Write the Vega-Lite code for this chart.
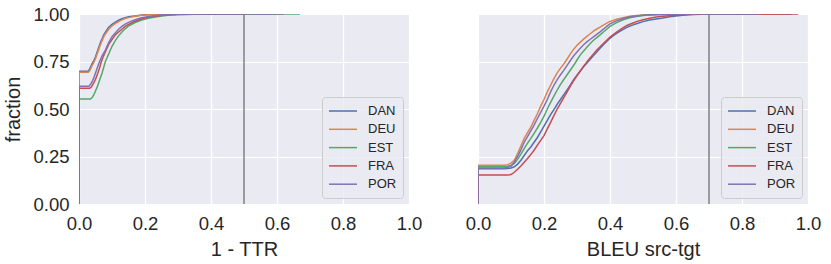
{
  "$schema": "https://vega.github.io/schema/vega-lite/v6.json",
  "padding": {"left": 3, "top": 5, "right": 5, "bottom": 2},
  "background": "white",
  "datasets": {
    "ecdf": [
      {"p":"ttr","l":"DAN","x":0,"y":0},{"p":"ttr","l":"DAN","x":0,"y":0.699},{"p":"ttr","l":"DAN","x":0.028,"y":0.699},{"p":"ttr","l":"DAN","x":0.032,"y":0.71},{"p":"ttr","l":"DAN","x":0.036,"y":0.725},{"p":"ttr","l":"DAN","x":0.04,"y":0.74},{"p":"ttr","l":"DAN","x":0.045,"y":0.755},{"p":"ttr","l":"DAN","x":0.05,"y":0.775},{"p":"ttr","l":"DAN","x":0.055,"y":0.8},{"p":"ttr","l":"DAN","x":0.06,"y":0.825},{"p":"ttr","l":"DAN","x":0.065,"y":0.85},{"p":"ttr","l":"DAN","x":0.07,"y":0.87},{"p":"ttr","l":"DAN","x":0.075,"y":0.89},{"p":"ttr","l":"DAN","x":0.08,"y":0.905},{"p":"ttr","l":"DAN","x":0.09,"y":0.93},{"p":"ttr","l":"DAN","x":0.1,"y":0.945},{"p":"ttr","l":"DAN","x":0.11,"y":0.957},{"p":"ttr","l":"DAN","x":0.12,"y":0.967},{"p":"ttr","l":"DAN","x":0.13,"y":0.975},{"p":"ttr","l":"DAN","x":0.14,"y":0.981},{"p":"ttr","l":"DAN","x":0.15,"y":0.985},{"p":"ttr","l":"DAN","x":0.17,"y":0.99},{"p":"ttr","l":"DAN","x":0.19,"y":0.995},{"p":"ttr","l":"DAN","x":0.22,"y":0.998},{"p":"ttr","l":"DAN","x":0.26,"y":0.999},{"p":"ttr","l":"DAN","x":0.35,"y":1},{"p":"ttr","l":"DAN","x":0.55,"y":1},
      {"p":"ttr","l":"DEU","x":0,"y":0},{"p":"ttr","l":"DEU","x":0,"y":0.693},{"p":"ttr","l":"DEU","x":0.028,"y":0.693},{"p":"ttr","l":"DEU","x":0.032,"y":0.7},{"p":"ttr","l":"DEU","x":0.036,"y":0.715},{"p":"ttr","l":"DEU","x":0.04,"y":0.73},{"p":"ttr","l":"DEU","x":0.045,"y":0.745},{"p":"ttr","l":"DEU","x":0.05,"y":0.765},{"p":"ttr","l":"DEU","x":0.055,"y":0.79},{"p":"ttr","l":"DEU","x":0.06,"y":0.815},{"p":"ttr","l":"DEU","x":0.065,"y":0.84},{"p":"ttr","l":"DEU","x":0.07,"y":0.86},{"p":"ttr","l":"DEU","x":0.075,"y":0.88},{"p":"ttr","l":"DEU","x":0.08,"y":0.895},{"p":"ttr","l":"DEU","x":0.09,"y":0.92},{"p":"ttr","l":"DEU","x":0.1,"y":0.937},{"p":"ttr","l":"DEU","x":0.11,"y":0.95},{"p":"ttr","l":"DEU","x":0.12,"y":0.96},{"p":"ttr","l":"DEU","x":0.13,"y":0.969},{"p":"ttr","l":"DEU","x":0.14,"y":0.976},{"p":"ttr","l":"DEU","x":0.15,"y":0.981},{"p":"ttr","l":"DEU","x":0.17,"y":0.988},{"p":"ttr","l":"DEU","x":0.19,"y":0.993},{"p":"ttr","l":"DEU","x":0.22,"y":0.997},{"p":"ttr","l":"DEU","x":0.26,"y":0.999},{"p":"ttr","l":"DEU","x":0.35,"y":1},{"p":"ttr","l":"DEU","x":0.6,"y":1},
      {"p":"ttr","l":"EST","x":0,"y":0},{"p":"ttr","l":"EST","x":0,"y":0.553},{"p":"ttr","l":"EST","x":0.035,"y":0.553},{"p":"ttr","l":"EST","x":0.04,"y":0.56},{"p":"ttr","l":"EST","x":0.045,"y":0.575},{"p":"ttr","l":"EST","x":0.05,"y":0.595},{"p":"ttr","l":"EST","x":0.055,"y":0.615},{"p":"ttr","l":"EST","x":0.06,"y":0.64},{"p":"ttr","l":"EST","x":0.065,"y":0.665},{"p":"ttr","l":"EST","x":0.07,"y":0.69},{"p":"ttr","l":"EST","x":0.075,"y":0.72},{"p":"ttr","l":"EST","x":0.08,"y":0.75},{"p":"ttr","l":"EST","x":0.085,"y":0.77},{"p":"ttr","l":"EST","x":0.09,"y":0.79},{"p":"ttr","l":"EST","x":0.1,"y":0.83},{"p":"ttr","l":"EST","x":0.11,"y":0.86},{"p":"ttr","l":"EST","x":0.12,"y":0.885},{"p":"ttr","l":"EST","x":0.13,"y":0.905},{"p":"ttr","l":"EST","x":0.14,"y":0.922},{"p":"ttr","l":"EST","x":0.15,"y":0.937},{"p":"ttr","l":"EST","x":0.17,"y":0.955},{"p":"ttr","l":"EST","x":0.19,"y":0.968},{"p":"ttr","l":"EST","x":0.21,"y":0.978},{"p":"ttr","l":"EST","x":0.24,"y":0.987},{"p":"ttr","l":"EST","x":0.27,"y":0.993},{"p":"ttr","l":"EST","x":0.3,"y":0.997},{"p":"ttr","l":"EST","x":0.35,"y":0.999},{"p":"ttr","l":"EST","x":0.45,"y":1},{"p":"ttr","l":"EST","x":0.67,"y":1},
      {"p":"ttr","l":"FRA","x":0,"y":0},{"p":"ttr","l":"FRA","x":0,"y":0.609},{"p":"ttr","l":"FRA","x":0.032,"y":0.609},{"p":"ttr","l":"FRA","x":0.037,"y":0.615},{"p":"ttr","l":"FRA","x":0.042,"y":0.63},{"p":"ttr","l":"FRA","x":0.047,"y":0.645},{"p":"ttr","l":"FRA","x":0.052,"y":0.665},{"p":"ttr","l":"FRA","x":0.057,"y":0.69},{"p":"ttr","l":"FRA","x":0.062,"y":0.715},{"p":"ttr","l":"FRA","x":0.067,"y":0.745},{"p":"ttr","l":"FRA","x":0.072,"y":0.77},{"p":"ttr","l":"FRA","x":0.077,"y":0.79},{"p":"ttr","l":"FRA","x":0.082,"y":0.81},{"p":"ttr","l":"FRA","x":0.09,"y":0.84},{"p":"ttr","l":"FRA","x":0.1,"y":0.865},{"p":"ttr","l":"FRA","x":0.11,"y":0.89},{"p":"ttr","l":"FRA","x":0.12,"y":0.905},{"p":"ttr","l":"FRA","x":0.13,"y":0.92},{"p":"ttr","l":"FRA","x":0.14,"y":0.935},{"p":"ttr","l":"FRA","x":0.15,"y":0.945},{"p":"ttr","l":"FRA","x":0.17,"y":0.962},{"p":"ttr","l":"FRA","x":0.19,"y":0.975},{"p":"ttr","l":"FRA","x":0.22,"y":0.987},{"p":"ttr","l":"FRA","x":0.26,"y":0.995},{"p":"ttr","l":"FRA","x":0.3,"y":0.998},{"p":"ttr","l":"FRA","x":0.4,"y":1},{"p":"ttr","l":"FRA","x":0.5,"y":1},
      {"p":"ttr","l":"POR","x":0,"y":0},{"p":"ttr","l":"POR","x":0,"y":0.62},{"p":"ttr","l":"POR","x":0.03,"y":0.62},{"p":"ttr","l":"POR","x":0.035,"y":0.63},{"p":"ttr","l":"POR","x":0.04,"y":0.645},{"p":"ttr","l":"POR","x":0.045,"y":0.665},{"p":"ttr","l":"POR","x":0.05,"y":0.69},{"p":"ttr","l":"POR","x":0.055,"y":0.715},{"p":"ttr","l":"POR","x":0.06,"y":0.74},{"p":"ttr","l":"POR","x":0.065,"y":0.76},{"p":"ttr","l":"POR","x":0.07,"y":0.78},{"p":"ttr","l":"POR","x":0.075,"y":0.795},{"p":"ttr","l":"POR","x":0.08,"y":0.81},{"p":"ttr","l":"POR","x":0.09,"y":0.85},{"p":"ttr","l":"POR","x":0.1,"y":0.88},{"p":"ttr","l":"POR","x":0.11,"y":0.9},{"p":"ttr","l":"POR","x":0.12,"y":0.92},{"p":"ttr","l":"POR","x":0.13,"y":0.935},{"p":"ttr","l":"POR","x":0.14,"y":0.947},{"p":"ttr","l":"POR","x":0.15,"y":0.956},{"p":"ttr","l":"POR","x":0.17,"y":0.97},{"p":"ttr","l":"POR","x":0.19,"y":0.98},{"p":"ttr","l":"POR","x":0.22,"y":0.99},{"p":"ttr","l":"POR","x":0.26,"y":0.996},{"p":"ttr","l":"POR","x":0.3,"y":0.999},{"p":"ttr","l":"POR","x":0.4,"y":1},{"p":"ttr","l":"POR","x":0.62,"y":1},

      {"p":"bleu","l":"DAN","x":0,"y":0},{"p":"bleu","l":"DAN","x":0,"y":0.185},{"p":"bleu","l":"DAN","x":0.08,"y":0.185},{"p":"bleu","l":"DAN","x":0.09,"y":0.187},{"p":"bleu","l":"DAN","x":0.1,"y":0.19},{"p":"bleu","l":"DAN","x":0.11,"y":0.196},{"p":"bleu","l":"DAN","x":0.12,"y":0.21},{"p":"bleu","l":"DAN","x":0.13,"y":0.23},{"p":"bleu","l":"DAN","x":0.14,"y":0.255},{"p":"bleu","l":"DAN","x":0.15,"y":0.28},{"p":"bleu","l":"DAN","x":0.16,"y":0.3},{"p":"bleu","l":"DAN","x":0.17,"y":0.325},{"p":"bleu","l":"DAN","x":0.18,"y":0.35},{"p":"bleu","l":"DAN","x":0.19,"y":0.38},{"p":"bleu","l":"DAN","x":0.2,"y":0.41},{"p":"bleu","l":"DAN","x":0.21,"y":0.44},{"p":"bleu","l":"DAN","x":0.22,"y":0.47},{"p":"bleu","l":"DAN","x":0.23,"y":0.497},{"p":"bleu","l":"DAN","x":0.24,"y":0.525},{"p":"bleu","l":"DAN","x":0.25,"y":0.55},{"p":"bleu","l":"DAN","x":0.26,"y":0.576},{"p":"bleu","l":"DAN","x":0.27,"y":0.6},{"p":"bleu","l":"DAN","x":0.28,"y":0.627},{"p":"bleu","l":"DAN","x":0.29,"y":0.655},{"p":"bleu","l":"DAN","x":0.3,"y":0.678},{"p":"bleu","l":"DAN","x":0.31,"y":0.7},{"p":"bleu","l":"DAN","x":0.32,"y":0.722},{"p":"bleu","l":"DAN","x":0.33,"y":0.742},{"p":"bleu","l":"DAN","x":0.34,"y":0.762},{"p":"bleu","l":"DAN","x":0.35,"y":0.782},{"p":"bleu","l":"DAN","x":0.36,"y":0.8},{"p":"bleu","l":"DAN","x":0.37,"y":0.82},{"p":"bleu","l":"DAN","x":0.38,"y":0.838},{"p":"bleu","l":"DAN","x":0.39,"y":0.855},{"p":"bleu","l":"DAN","x":0.4,"y":0.872},{"p":"bleu","l":"DAN","x":0.41,"y":0.886},{"p":"bleu","l":"DAN","x":0.42,"y":0.898},{"p":"bleu","l":"DAN","x":0.43,"y":0.909},{"p":"bleu","l":"DAN","x":0.44,"y":0.919},{"p":"bleu","l":"DAN","x":0.45,"y":0.928},{"p":"bleu","l":"DAN","x":0.46,"y":0.936},{"p":"bleu","l":"DAN","x":0.47,"y":0.943},{"p":"bleu","l":"DAN","x":0.48,"y":0.949},{"p":"bleu","l":"DAN","x":0.5,"y":0.96},{"p":"bleu","l":"DAN","x":0.52,"y":0.968},{"p":"bleu","l":"DAN","x":0.54,"y":0.974},{"p":"bleu","l":"DAN","x":0.56,"y":0.979},{"p":"bleu","l":"DAN","x":0.58,"y":0.985},{"p":"bleu","l":"DAN","x":0.6,"y":0.99},{"p":"bleu","l":"DAN","x":0.62,"y":0.994},{"p":"bleu","l":"DAN","x":0.65,"y":0.997},{"p":"bleu","l":"DAN","x":0.68,"y":0.999},{"p":"bleu","l":"DAN","x":0.72,"y":1},{"p":"bleu","l":"DAN","x":0.95,"y":1},
      {"p":"bleu","l":"DEU","x":0,"y":0},{"p":"bleu","l":"DEU","x":0,"y":0.204},{"p":"bleu","l":"DEU","x":0.08,"y":0.204},{"p":"bleu","l":"DEU","x":0.09,"y":0.207},{"p":"bleu","l":"DEU","x":0.1,"y":0.215},{"p":"bleu","l":"DEU","x":0.11,"y":0.23},{"p":"bleu","l":"DEU","x":0.12,"y":0.265},{"p":"bleu","l":"DEU","x":0.13,"y":0.305},{"p":"bleu","l":"DEU","x":0.14,"y":0.345},{"p":"bleu","l":"DEU","x":0.15,"y":0.375},{"p":"bleu","l":"DEU","x":0.16,"y":0.405},{"p":"bleu","l":"DEU","x":0.17,"y":0.44},{"p":"bleu","l":"DEU","x":0.18,"y":0.475},{"p":"bleu","l":"DEU","x":0.19,"y":0.515},{"p":"bleu","l":"DEU","x":0.2,"y":0.55},{"p":"bleu","l":"DEU","x":0.21,"y":0.59},{"p":"bleu","l":"DEU","x":0.22,"y":0.625},{"p":"bleu","l":"DEU","x":0.23,"y":0.66},{"p":"bleu","l":"DEU","x":0.24,"y":0.69},{"p":"bleu","l":"DEU","x":0.25,"y":0.715},{"p":"bleu","l":"DEU","x":0.26,"y":0.737},{"p":"bleu","l":"DEU","x":0.27,"y":0.763},{"p":"bleu","l":"DEU","x":0.28,"y":0.79},{"p":"bleu","l":"DEU","x":0.29,"y":0.815},{"p":"bleu","l":"DEU","x":0.3,"y":0.835},{"p":"bleu","l":"DEU","x":0.31,"y":0.852},{"p":"bleu","l":"DEU","x":0.32,"y":0.868},{"p":"bleu","l":"DEU","x":0.33,"y":0.882},{"p":"bleu","l":"DEU","x":0.34,"y":0.896},{"p":"bleu","l":"DEU","x":0.35,"y":0.91},{"p":"bleu","l":"DEU","x":0.36,"y":0.921},{"p":"bleu","l":"DEU","x":0.37,"y":0.931},{"p":"bleu","l":"DEU","x":0.38,"y":0.942},{"p":"bleu","l":"DEU","x":0.39,"y":0.952},{"p":"bleu","l":"DEU","x":0.4,"y":0.961},{"p":"bleu","l":"DEU","x":0.42,"y":0.972},{"p":"bleu","l":"DEU","x":0.44,"y":0.981},{"p":"bleu","l":"DEU","x":0.46,"y":0.988},{"p":"bleu","l":"DEU","x":0.48,"y":0.992},{"p":"bleu","l":"DEU","x":0.5,"y":0.995},{"p":"bleu","l":"DEU","x":0.52,"y":0.997},{"p":"bleu","l":"DEU","x":0.55,"y":0.999},{"p":"bleu","l":"DEU","x":0.6,"y":1},{"p":"bleu","l":"DEU","x":0.9,"y":1},
      {"p":"bleu","l":"EST","x":0,"y":0},{"p":"bleu","l":"EST","x":0,"y":0.196},{"p":"bleu","l":"EST","x":0.08,"y":0.196},{"p":"bleu","l":"EST","x":0.09,"y":0.198},{"p":"bleu","l":"EST","x":0.1,"y":0.203},{"p":"bleu","l":"EST","x":0.11,"y":0.213},{"p":"bleu","l":"EST","x":0.12,"y":0.235},{"p":"bleu","l":"EST","x":0.13,"y":0.262},{"p":"bleu","l":"EST","x":0.14,"y":0.292},{"p":"bleu","l":"EST","x":0.15,"y":0.32},{"p":"bleu","l":"EST","x":0.16,"y":0.345},{"p":"bleu","l":"EST","x":0.17,"y":0.372},{"p":"bleu","l":"EST","x":0.18,"y":0.4},{"p":"bleu","l":"EST","x":0.19,"y":0.43},{"p":"bleu","l":"EST","x":0.2,"y":0.462},{"p":"bleu","l":"EST","x":0.21,"y":0.5},{"p":"bleu","l":"EST","x":0.22,"y":0.535},{"p":"bleu","l":"EST","x":0.23,"y":0.568},{"p":"bleu","l":"EST","x":0.24,"y":0.6},{"p":"bleu","l":"EST","x":0.25,"y":0.63},{"p":"bleu","l":"EST","x":0.26,"y":0.655},{"p":"bleu","l":"EST","x":0.27,"y":0.68},{"p":"bleu","l":"EST","x":0.28,"y":0.705},{"p":"bleu","l":"EST","x":0.29,"y":0.73},{"p":"bleu","l":"EST","x":0.3,"y":0.758},{"p":"bleu","l":"EST","x":0.31,"y":0.785},{"p":"bleu","l":"EST","x":0.32,"y":0.805},{"p":"bleu","l":"EST","x":0.33,"y":0.825},{"p":"bleu","l":"EST","x":0.34,"y":0.845},{"p":"bleu","l":"EST","x":0.35,"y":0.862},{"p":"bleu","l":"EST","x":0.36,"y":0.876},{"p":"bleu","l":"EST","x":0.37,"y":0.89},{"p":"bleu","l":"EST","x":0.38,"y":0.905},{"p":"bleu","l":"EST","x":0.39,"y":0.92},{"p":"bleu","l":"EST","x":0.4,"y":0.935},{"p":"bleu","l":"EST","x":0.42,"y":0.955},{"p":"bleu","l":"EST","x":0.44,"y":0.97},{"p":"bleu","l":"EST","x":0.46,"y":0.98},{"p":"bleu","l":"EST","x":0.48,"y":0.987},{"p":"bleu","l":"EST","x":0.5,"y":0.992},{"p":"bleu","l":"EST","x":0.52,"y":0.995},{"p":"bleu","l":"EST","x":0.55,"y":0.998},{"p":"bleu","l":"EST","x":0.6,"y":0.999},{"p":"bleu","l":"EST","x":0.65,"y":1},{"p":"bleu","l":"EST","x":0.85,"y":1},
      {"p":"bleu","l":"FRA","x":0,"y":0},{"p":"bleu","l":"FRA","x":0,"y":0.152},{"p":"bleu","l":"FRA","x":0.09,"y":0.152},{"p":"bleu","l":"FRA","x":0.1,"y":0.155},{"p":"bleu","l":"FRA","x":0.11,"y":0.167},{"p":"bleu","l":"FRA","x":0.12,"y":0.183},{"p":"bleu","l":"FRA","x":0.13,"y":0.2},{"p":"bleu","l":"FRA","x":0.14,"y":0.22},{"p":"bleu","l":"FRA","x":0.15,"y":0.24},{"p":"bleu","l":"FRA","x":0.16,"y":0.26},{"p":"bleu","l":"FRA","x":0.17,"y":0.283},{"p":"bleu","l":"FRA","x":0.18,"y":0.31},{"p":"bleu","l":"FRA","x":0.19,"y":0.335},{"p":"bleu","l":"FRA","x":0.2,"y":0.36},{"p":"bleu","l":"FRA","x":0.21,"y":0.395},{"p":"bleu","l":"FRA","x":0.22,"y":0.43},{"p":"bleu","l":"FRA","x":0.23,"y":0.465},{"p":"bleu","l":"FRA","x":0.24,"y":0.5},{"p":"bleu","l":"FRA","x":0.25,"y":0.53},{"p":"bleu","l":"FRA","x":0.26,"y":0.56},{"p":"bleu","l":"FRA","x":0.27,"y":0.59},{"p":"bleu","l":"FRA","x":0.28,"y":0.62},{"p":"bleu","l":"FRA","x":0.29,"y":0.65},{"p":"bleu","l":"FRA","x":0.3,"y":0.675},{"p":"bleu","l":"FRA","x":0.31,"y":0.7},{"p":"bleu","l":"FRA","x":0.32,"y":0.725},{"p":"bleu","l":"FRA","x":0.33,"y":0.748},{"p":"bleu","l":"FRA","x":0.34,"y":0.77},{"p":"bleu","l":"FRA","x":0.35,"y":0.79},{"p":"bleu","l":"FRA","x":0.36,"y":0.81},{"p":"bleu","l":"FRA","x":0.37,"y":0.828},{"p":"bleu","l":"FRA","x":0.38,"y":0.845},{"p":"bleu","l":"FRA","x":0.39,"y":0.862},{"p":"bleu","l":"FRA","x":0.4,"y":0.878},{"p":"bleu","l":"FRA","x":0.41,"y":0.892},{"p":"bleu","l":"FRA","x":0.42,"y":0.905},{"p":"bleu","l":"FRA","x":0.43,"y":0.917},{"p":"bleu","l":"FRA","x":0.44,"y":0.928},{"p":"bleu","l":"FRA","x":0.45,"y":0.938},{"p":"bleu","l":"FRA","x":0.46,"y":0.946},{"p":"bleu","l":"FRA","x":0.47,"y":0.953},{"p":"bleu","l":"FRA","x":0.48,"y":0.96},{"p":"bleu","l":"FRA","x":0.5,"y":0.97},{"p":"bleu","l":"FRA","x":0.52,"y":0.978},{"p":"bleu","l":"FRA","x":0.54,"y":0.984},{"p":"bleu","l":"FRA","x":0.56,"y":0.988},{"p":"bleu","l":"FRA","x":0.58,"y":0.991},{"p":"bleu","l":"FRA","x":0.6,"y":0.994},{"p":"bleu","l":"FRA","x":0.63,"y":0.997},{"p":"bleu","l":"FRA","x":0.66,"y":0.999},{"p":"bleu","l":"FRA","x":0.7,"y":1},{"p":"bleu","l":"FRA","x":0.97,"y":1},
      {"p":"bleu","l":"POR","x":0,"y":0},{"p":"bleu","l":"POR","x":0,"y":0.19},{"p":"bleu","l":"POR","x":0.08,"y":0.19},{"p":"bleu","l":"POR","x":0.09,"y":0.193},{"p":"bleu","l":"POR","x":0.1,"y":0.2},{"p":"bleu","l":"POR","x":0.11,"y":0.22},{"p":"bleu","l":"POR","x":0.12,"y":0.25},{"p":"bleu","l":"POR","x":0.13,"y":0.285},{"p":"bleu","l":"POR","x":0.14,"y":0.325},{"p":"bleu","l":"POR","x":0.15,"y":0.355},{"p":"bleu","l":"POR","x":0.16,"y":0.385},{"p":"bleu","l":"POR","x":0.17,"y":0.415},{"p":"bleu","l":"POR","x":0.18,"y":0.45},{"p":"bleu","l":"POR","x":0.19,"y":0.482},{"p":"bleu","l":"POR","x":0.2,"y":0.515},{"p":"bleu","l":"POR","x":0.21,"y":0.55},{"p":"bleu","l":"POR","x":0.22,"y":0.59},{"p":"bleu","l":"POR","x":0.23,"y":0.625},{"p":"bleu","l":"POR","x":0.24,"y":0.655},{"p":"bleu","l":"POR","x":0.25,"y":0.68},{"p":"bleu","l":"POR","x":0.26,"y":0.703},{"p":"bleu","l":"POR","x":0.27,"y":0.73},{"p":"bleu","l":"POR","x":0.28,"y":0.755},{"p":"bleu","l":"POR","x":0.29,"y":0.78},{"p":"bleu","l":"POR","x":0.3,"y":0.8},{"p":"bleu","l":"POR","x":0.31,"y":0.82},{"p":"bleu","l":"POR","x":0.32,"y":0.838},{"p":"bleu","l":"POR","x":0.33,"y":0.853},{"p":"bleu","l":"POR","x":0.34,"y":0.867},{"p":"bleu","l":"POR","x":0.35,"y":0.88},{"p":"bleu","l":"POR","x":0.36,"y":0.893},{"p":"bleu","l":"POR","x":0.37,"y":0.906},{"p":"bleu","l":"POR","x":0.38,"y":0.92},{"p":"bleu","l":"POR","x":0.39,"y":0.935},{"p":"bleu","l":"POR","x":0.4,"y":0.948},{"p":"bleu","l":"POR","x":0.42,"y":0.964},{"p":"bleu","l":"POR","x":0.44,"y":0.976},{"p":"bleu","l":"POR","x":0.46,"y":0.985},{"p":"bleu","l":"POR","x":0.48,"y":0.99},{"p":"bleu","l":"POR","x":0.5,"y":0.994},{"p":"bleu","l":"POR","x":0.52,"y":0.996},{"p":"bleu","l":"POR","x":0.55,"y":0.998},{"p":"bleu","l":"POR","x":0.6,"y":0.999},{"p":"bleu","l":"POR","x":0.65,"y":1},{"p":"bleu","l":"POR","x":0.85,"y":1}
    ],
    "thresholds": [
      {"p": "ttr", "t": 0.5},
      {"p": "bleu", "t": 0.7}
    ]
  },
  "hconcat": [
    {
      "width": 330,
      "height": 190,
      "layer": [
        {
          "data": {"name": "ecdf"},
          "transform": [{"filter": "datum.p === 'ttr'"}],
          "mark": {"type": "line", "interpolate": "linear", "strokeWidth": 1.5, "clip": true},
          "encoding": {
            "x": {"field": "x", "type": "quantitative", "scale": {"domain": [0, 1], "nice": false}, "axis": {"title": "1 - TTR", "values": [0, 0.2, 0.4, 0.6, 0.8, 1], "format": ".1f"}},
            "y": {"field": "y", "type": "quantitative", "scale": {"domain": [0, 1], "nice": false}, "axis": {"title": "fraction", "values": [0, 0.25, 0.5, 0.75, 1], "format": ".2f"}},
            "color": {"field": "l", "type": "nominal", "scale": {"domain": ["DAN", "DEU", "EST", "FRA", "POR"], "range": ["#4C72B0", "#DD8452", "#55A868", "#C44E52", "#8172B3"]}, "legend": {"title": null}}
          }
        },
        {
          "data": {"name": "thresholds"},
          "transform": [{"filter": "datum.p === 'ttr'"}],
          "mark": {"type": "rule", "color": "#808080", "strokeWidth": 1.5},
          "encoding": {
            "x": {"field": "t", "type": "quantitative"}
          }
        }
      ]
    },
    {
      "width": 330,
      "height": 190,
      "layer": [
        {
          "data": {"name": "ecdf"},
          "transform": [{"filter": "datum.p === 'bleu'"}],
          "mark": {"type": "line", "interpolate": "linear", "strokeWidth": 1.5, "clip": true},
          "encoding": {
            "x": {"field": "x", "type": "quantitative", "scale": {"domain": [0, 1], "nice": false}, "axis": {"title": "BLEU src-tgt", "values": [0, 0.2, 0.4, 0.6, 0.8, 1], "format": ".1f"}},
            "y": {"field": "y", "type": "quantitative", "scale": {"domain": [0, 1], "nice": false}, "axis": {"title": null, "labels": false, "labelPadding": 0, "values": [0, 0.25, 0.5, 0.75, 1]}},
            "color": {"field": "l", "type": "nominal", "scale": {"domain": ["DAN", "DEU", "EST", "FRA", "POR"], "range": ["#4C72B0", "#DD8452", "#55A868", "#C44E52", "#8172B3"]}, "legend": {"title": null}}
          }
        },
        {
          "data": {"name": "thresholds"},
          "transform": [{"filter": "datum.p === 'bleu'"}],
          "mark": {"type": "rule", "color": "#808080", "strokeWidth": 1.5},
          "encoding": {
            "x": {"field": "t", "type": "quantitative"}
          }
        }
      ]
    }
  ],
  "spacing": 43,
  "resolve": {"legend": {"color": "independent"}},
  "config": {
    "font": "Liberation Sans",
    "view": {"fill": "#EAEAF2", "stroke": null},
    "axis": {
      "grid": true,
      "gridColor": "#FFFFFF",
      "gridWidth": 1.2,
      "domain": false,
      "ticks": false,
      "labelFont": "Liberation Sans",
      "labelFontSize": 18.5,
      "labelColor": "#262626",
      "labelFlush": false,
      "labelOverlap": false,
      "titleFont": "Liberation Sans",
      "titleFontSize": 20,
      "titleFontWeight": "normal",
      "titleColor": "#262626"
    },
    "axisX": {"labelPadding": 10, "titlePadding": 7},
    "axisY": {"labelPadding": 10, "titlePadding": 9},
    "legend": {
      "orient": "bottom-right",
      "offset": 6,
      "padding": 6,
      "fillColor": "rgba(234,234,242,0.8)",
      "strokeColor": "#CCCCCC",
      "cornerRadius": 3,
      "symbolType": "M-1,0H3",
      "symbolSize": 196,
      "symbolStrokeWidth": 1.5,
      "symbolFillColor": "transparent",
      "labelFont": "Liberation Sans",
      "labelFontSize": 13,
      "labelColor": "#262626",
      "labelOffset": 24,
      "rowPadding": 3.3
    }
  }
}
